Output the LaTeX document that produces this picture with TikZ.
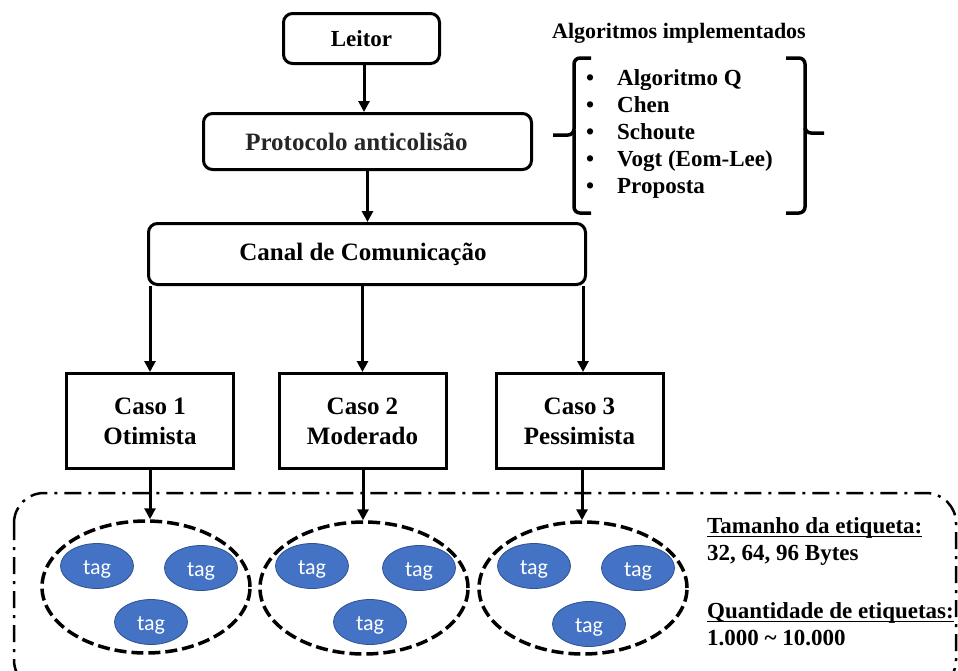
\documentclass[tikz,border=0pt]{standalone}
\usepackage{fontspec}
\setmainfont{Liberation Serif}
\newfontfamily\tagfont{Carlito}
\usetikzlibrary{arrows.meta,shapes.geometric}
\definecolor{tagblue}{HTML}{4472C4}
\definecolor{tagedge}{HTML}{2F528F}
% underline sitting just below the baseline
\newcommand{\ulin}[1]{\setbox0\hbox{#1}\rlap{\rule[-4pt]{\wd0}{1.4pt}}\box0}
\begin{document}
\begin{tikzpicture}[x=1pt,y=-1pt,
  bigfont/.style={font=\fontsize{25}{30}\selectfont\bfseries},
  smallfont/.style={font=\fontsize{23}{27}\selectfont\bfseries},
  roundbox/.style={draw, line width=3pt, rounded corners=9pt, inner sep=0pt, bigfont},
  casebox/.style={draw, line width=3pt, inner sep=0pt, align=center, bigfont,
                  minimum width=167pt, minimum height=95pt},
  arr/.style={line width=3pt, -{Triangle[length=11pt,width=11pt]}},
  group/.style={ellipse, draw, line width=3.5pt, dash pattern=on 12pt off 5pt,
                minimum width=208pt, minimum height=132pt, inner sep=0pt},
  tagn/.style={ellipse, fill=tagblue, draw=tagedge, line width=0.8pt,
               minimum width=73pt, minimum height=45pt, inner sep=0pt,
               text height=17pt, text depth=0pt,
               text=white, font=\tagfont\fontsize{22}{24}\selectfont},
  brace/.style={line width=3.5pt, rounded corners=6pt},
  info/.style={anchor=base west, inner sep=0pt, smallfont}]

\useasboundingbox (0,0) rectangle (958,670);

% dash-dotted frame around the tag populations
\begin{scope}
  \clip (0,0) rectangle (958,670);
  \draw[line width=2.5pt, dash pattern=on 17pt off 7pt on 3pt off 7pt,
        rounded corners=30pt] (14,493) rectangle (956,690);
\end{scope}

% main chain
\node[roundbox, minimum width=156pt, minimum height=50pt, font=\fontsize{23}{27}\selectfont\bfseries]
  (leitor) at (361.5,38.5) {Leitor};
\node[roundbox, minimum width=328pt, minimum height=56pt, text=black!85]
  (proto) at (367.5,141.5) {\hspace*{-22pt}Protocolo anticolisão};
\node[roundbox, minimum width=437pt, minimum height=61pt]
  (canal) at (367,254) {\hspace*{-8pt}Canal de Comunicação};

\node[casebox] (c1) at (150,421) {Caso 1\\Otimista};
\node[casebox] (c2) at (362.5,421) {Caso 2\\Moderado};
\node[casebox] (c3) at (579.5,421) {Caso 3\\Pessimista};

\draw[arr] ([xshift=2.5pt]leitor.south) -- ([xshift=2.5pt]leitor.south |- proto.north);
\draw[arr] (proto.south) -- (proto.south |- canal.north);
\draw[arr] (c1.north |- canal.south) -- (c1.north);
\draw[arr] (c2.north |- canal.south) -- (c2.north);
\draw[arr] ([xshift=3.5pt]c3.north |- canal.south) -- ([xshift=3.5pt]c3.north);

% tag populations
\node[group] (g1) at (146,587) {};
\node[group] (g2) at (364,588) {};
\node[group] (g3) at (583,588) {};

\draw[arr] (c1.south) -- (c1.south |- g1.north);
\draw[arr] ([xshift=0.5pt]c2.south) -- ([xshift=0.5pt]c2.south |- g2.north);
\draw[arr] ([xshift=2.5pt]c3.south) -- ([xshift=2.5pt]c3.south |- g3.north);

\node[tagn] (t11) at (97,566) {tag};
\node[tagn] (t12) at (201,568) {tag};
\node[tagn] (t13) at (151,622) {tag};
\node[tagn] (t21) at (312,566) {tag};
\node[tagn] (t22) at (419,568) {tag};
\node[tagn] (t23) at (370,622) {tag};
\node[tagn] (t31) at (534,566) {tag};
\node[tagn] (t32) at (638,568) {tag};
\node[tagn] (t33) at (589,624) {tag};

% simulation parameters
\node[info] (tam)  at (707,533) {\ulin{Tamanho da etiqueta:}};
\node[info] (tamv) at (707,560) {32, 64, 96 Bytes};
\node[info] (qtd)  at (707,618) {\ulin{Quantidade de etiquetas:}};
\node[info] (qtdv) at (707,645) {1.000 \char`~\ 10.000};

% implemented algorithms
\node[anchor=base, inner sep=0pt, font=\fontsize{22}{26}\selectfont\bfseries]
  (alg) at (679,38) {Algoritmos implementados};
\node[info] (a1) at (586,85)  {\makebox[31pt][l]{•}Algoritmo Q};
\node[info] (a2) at (586,112) {\makebox[31pt][l]{•}Chen};
\node[info] (a3) at (586,139) {\makebox[31pt][l]{•}Schoute};
\node[info] (a4) at (586,166) {\makebox[31pt][l]{•}Vogt (Eom-Lee)};
\node[info] (a5) at (586,193) {\makebox[31pt][l]{•}Proposta};

% braces around the list
\draw[brace] (591,58) -- (574,58) -- (574,135) -- (553,135);
\draw[brace] (574,130) -- (574,213) -- (591,213);
\draw[brace] (786,58) -- (805,58) -- (805,133) -- (824,133);
\draw[brace] (805,128) -- (805,213) -- (786,213);

\end{tikzpicture}
\end{document}
